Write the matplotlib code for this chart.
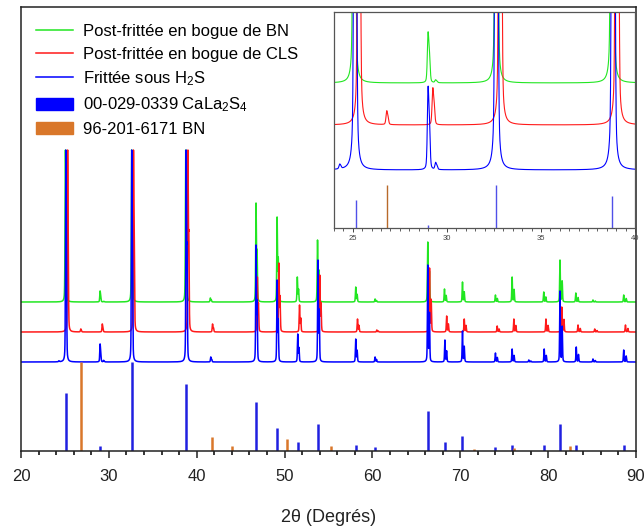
import numpy as np
import matplotlib.pyplot as plt
from matplotlib.lines import Line2D
from matplotlib.patches import Patch

plt.rcParams['font.family'] = ['Liberation Sans', 'DejaVu Sans']
plt.rcParams['mathtext.fontset'] = 'custom'
plt.rcParams['mathtext.rm'] = 'Liberation Sans'
plt.rcParams['mathtext.it'] = 'Liberation Sans:italic'
plt.rcParams['mathtext.default'] = 'regular'

# pics (position 2theta, hauteur au-dessus de la ligne de base)
blue_pos = [24.3, 25.1, 29.0, 29.4, 32.6, 38.8, 41.6, 46.75, 49.15, 51.5, 53.8,
            58.1, 60.3, 66.3, 68.25, 70.25, 74.0, 75.9, 77.8, 79.55, 81.35,
            83.2, 85.1, 88.6]
blue_h = [1, 212, 18, 1.5, 212, 212, 5, 117, 82, 28, 102,
          23, 5, 97, 22, 31, 9, 13, 2, 13, 71,
          15, 3, 12]

red_pos = [25.3, 26.8, 29.25, 32.8, 39.0, 41.8, 46.9, 49.35, 51.7, 54.0,
           58.3, 60.5, 66.5, 68.45, 70.45, 74.2, 76.1, 79.75, 81.55,
           83.4, 85.3, 88.8]
red_h = [182, 3, 8, 182, 182, 8, 55, 69, 27, 57,
         13, 2, 64, 16, 13, 6, 13, 13, 25,
         7, 3, 7]

green_pos = [25.05, 29.0, 29.4, 32.6, 38.75, 41.55, 46.75, 49.15, 51.45, 53.75,
             58.1, 60.3, 66.3, 68.2, 70.25, 74.0, 75.9, 79.5, 81.35,
             83.15, 85.1, 88.6]
green_h = [152, 11, 0.6, 152, 152, 4, 99, 85, 25, 62,
           15, 3, 60, 13, 20, 7, 25, 10, 42,
           9, 2, 7]

# fiches de référence (intensité relative %)
cls_pos = [25.15, 29.0, 32.6, 38.8, 46.75, 49.1, 51.5, 53.8, 58.1, 60.25,
           66.3, 68.25, 70.2, 74.0, 75.9, 79.55, 81.35, 83.2, 88.6]
cls_int = [65, 6, 100, 75, 55, 26, 10, 30, 7, 4,
           45, 10, 17, 4, 7, 7, 30, 7, 7]

bn_pos = [26.8, 41.7, 44.0, 50.25, 55.3, 71.6, 76.1, 82.5]
bn_int = [100, 16, 6, 13, 6, 2, 3, 6]

labels = ['Post-frittée en bogue de BN', 'Post-frittée en bogue de CLS',
          'Frittée sous H$_2$S', '00-029-0339 CaLa$_2$S$_4$', '96-201-6171 BN']

C_GREEN = '#22e622'
C_RED = '#ff1a1a'
C_BLUE = '#0000ff'
C_STICK = '#2020e0'
C_ORANGE = '#d9772a'

x = np.arange(20, 90.001, 0.01)


def profile(x, pos, heights, fwhm=0.09, eta=0.35):
    y = np.zeros_like(x)
    for p, h in zip(pos, heights):
        p2 = 2 * np.degrees(np.arcsin(np.sin(np.radians(p / 2)) * 1.0025))
        one = np.zeros_like(x)
        for c, f in [(p, 1.0), (p2, 0.5)]:
            d = (x - c) / (fwhm / 2)
            lor = 1 / (1 + d ** 2)
            gau = np.exp(-np.log(2) * d ** 2)
            one += f * (eta * lor + (1 - eta) * gau)
        y += h * one / one.max()
    return y


y_blue = profile(x, blue_pos, blue_h)
y_red = profile(x, red_pos, red_h)
y_green = profile(x, green_pos, green_h)

fig = plt.figure(figsize=(6.44, 5.26), dpi=100)
ax = fig.add_axes([21 / 644, 1 - 451 / 526, 615 / 644, 444 / 526])

ax.plot(x, y_green + 149, color=C_GREEN, lw=1.1)
ax.plot(x, y_red + 119, color=C_RED, lw=1.1)
ax.plot(x, y_blue + 89, color=C_BLUE, lw=1.1)
ax.vlines(cls_pos, 0, np.array(cls_int) * 0.89, color=C_STICK, lw=1.8)
ax.vlines(bn_pos, 0, np.array(bn_int) * 0.89, color=C_ORANGE, lw=1.8)

ax.set_xlim(20, 90)
ax.set_ylim(0, 444)
ax.set_yticks([])
ax.set_xticks(np.arange(20, 91, 10))
ax.set_xticks(np.arange(20, 91, 2), minor=True)
ax.tick_params(axis='x', which='major', length=5, width=1.1, labelsize=12,
               pad=8, colors='#222222')
ax.tick_params(axis='x', which='minor', length=3, width=1.1)
for s in ax.spines.values():
    s.set_linewidth(1.1)
    s.set_color('#222222')
ax.set_xlabel('2θ (Degrés)', fontsize=13, labelpad=18, color='#222222')

handles = [Line2D([], [], color=C_GREEN, lw=1.1),
           Line2D([], [], color=C_RED, lw=1.1),
           Line2D([], [], color=C_BLUE, lw=1.1),
           Patch(color=C_BLUE), Patch(color=C_ORANGE)]
ax.legend(handles, labels, loc='upper left', bbox_to_anchor=(0.0, 0.995),
          frameon=False, fontsize=12, handlelength=2.2, handleheight=0.75,
          handletextpad=0.6, labelspacing=0.45)

# encart
ins = fig.add_axes([334 / 644, 1 - 228 / 526, 301 / 644, 216 / 526])
k = 4.65
ins.plot(x, y_green * k + 145, color=C_GREEN, lw=0.8)
ins.plot(x, y_red * k + 103, color=C_RED, lw=0.8)
ins.plot(x, y_blue * k + 58, color=C_BLUE, lw=0.8)
ins.vlines(cls_pos, 0, np.array(cls_int) * 0.43, color='#5050e8', lw=1.0)
ins.vlines(bn_pos, 0, np.array(bn_int) * 0.43, color='#b86a2a', lw=1.0)
ins.set_xlim(24, 40)
ins.set_ylim(0, 216)
ins.set_yticks([])
ins.set_xticks([25, 30, 35, 40])
ins.set_xticks(np.arange(24, 40.01, 0.5), minor=True)
ins.tick_params(axis='x', which='major', length=3, width=0.7, labelsize=5.5,
                pad=2, colors='#444444')
ins.tick_params(axis='x', which='minor', length=2, width=0.6, colors='#444444')
for s in ins.spines.values():
    s.set_linewidth(0.9)
    s.set_color('#555555')

fig.savefig('out.png', dpi=100)
